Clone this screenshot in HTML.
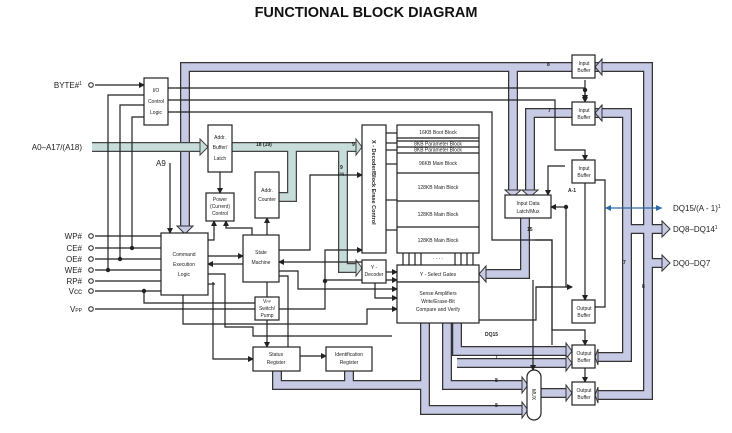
<!DOCTYPE html>
<html><head><meta charset="utf-8"><style>
html,body{margin:0;padding:0;background:#fff;}
svg{display:block;}
text{font-family:"Liberation Sans",sans-serif;fill:#222;}
.b{fill:#fff;stroke:#222;stroke-width:1.2;}
.l{fill:none;stroke:#222;stroke-width:1.2;}
.bo{fill:none;stroke:#333;stroke-width:10;stroke-linejoin:miter;}
.bi{fill:none;stroke:#c7cae4;stroke-width:7.5;stroke-linejoin:miter;}
.to{fill:none;stroke:#444;stroke-width:10;stroke-linejoin:miter;}
.ti{fill:none;stroke:#c6ddda;stroke-width:7.5;stroke-linejoin:miter;}
.s{font-size:5px;text-anchor:middle;}
.p{font-size:8px;text-anchor:end;}
</style></head><body>
<svg width="732" height="433" viewBox="0 0 732 433" xmlns="http://www.w3.org/2000/svg">
<defs>
<marker id="a" markerWidth="6" markerHeight="6" refX="5" refY="3" orient="auto" markerUnits="userSpaceOnUse"><path d="M0,0 L6,3 L0,6z" fill="#222"/></marker>
</defs>
<text x="366" y="17" font-size="14.5" font-weight="bold" text-anchor="middle" style="fill:#111">FUNCTIONAL BLOCK DIAGRAM</text>

<!-- lavender buses -->
<g>
<path class="bo" d="M572,67 H185 V226"/><path class="bo" d="M513,67 V190"/>
<path class="bo" d="M572,113 H530 V190"/>
<path class="bo" d="M595,67 H648 V395 H598"/>
<path class="bo" d="M595,113 H627 V357 H598"/>
<path class="bo" d="M627,229 H662"/><path class="bo" d="M648,263 H662"/>
<path class="bo" d="M525,218 V274 H486"/>
<path class="bo" d="M425,323 V410 H522"/>
<path class="bo" d="M447,323 V385 H522"/>
<path class="bo" d="M457,323 V351 H566"/>
<path class="bo" d="M457,363 H566"/>
<path class="bo" d="M277,371 V385 H425"/><path class="bo" d="M349,371 V385"/>
<path class="bo" d="M541,393 H566"/>
</g>
<g>
<path class="bi" d="M572,67 H185 V226"/><path class="bi" d="M513,67 V190"/>
<path class="bi" d="M572,113 H530 V190"/>
<path class="bi" d="M595,67 H648 V395 H598"/>
<path class="bi" d="M595,113 H627 V357 H598"/>
<path class="bi" d="M627,229 H662"/><path class="bi" d="M648,263 H662"/>
<path class="bi" d="M525,218 V274 H486"/>
<path class="bi" d="M425,323 V410 H522"/>
<path class="bi" d="M447,323 V385 H522"/>
<path class="bi" d="M457,323 V351 H566"/>
<path class="bi" d="M457,363 H566"/>
<path class="bi" d="M277,371 V385 H425"/><path class="bi" d="M349,371 V385"/>
<path class="bi" d="M541,393 H566"/>
</g>
<!-- arrow heads lavender -->
<g fill="#c7cae4" stroke="#333" stroke-width="1">
<path d="M177,226 H193 L185,234z"/>
<path d="M505,190 H521 L513,197z"/><path d="M522,190 H538 L530,197z"/>
<path d="M486,266 V282 L479,274z"/>
<path d="M602,59 V75 L595,67z"/><path d="M602,105 V121 L595,113z"/>
<path d="M598,349 V365 L595,357z"/><path d="M598,387 V403 L595,395z"/>
<path d="M662,221 V237 L670,229z"/><path d="M662,255 V271 L670,263z"/>
<path d="M522,402 V418 L528,410z"/><path d="M522,377 V393 L528,385z"/>
<path d="M566,343 V359 L572,351z"/><path d="M566,355 V371 L572,363z"/>
<path d="M566,385 V401 L572,393z"/>
</g>
<!-- teal buses -->
<path class="to" d="M92,147 H200"/><path class="to" d="M232,147 H356"/>
<path class="to" d="M292,147 V197 H279"/><path class="to" d="M343,147 V268 H356"/>
<path class="ti" d="M92,147 H200"/><path class="ti" d="M232,147 H356"/>
<path class="ti" d="M292,147 V197 H279"/><path class="ti" d="M343,147 V268 H356"/>
<g fill="#c6ddda" stroke="#444" stroke-width="1">
<path d="M200,139 V155 L208,147z"/><path d="M356,139 V155 L362,147z"/><path d="M356,260 V276 L362,268z"/>
</g>

<!-- thin lines -->
<g class="l">
<path d="M95,85 H144" marker-end="url(#a)"/>
<path d="M168,88 H585 V102" marker-end="url(#a)"/>
<path d="M168,100 H555 V150 H585 V160" marker-end="url(#a)"/>
<path d="M168,112 H492 V240 H552 V345"/>
<path d="M144,95 H108 V270"/><path d="M144,105 H120 V259"/><path d="M144,117 H132 V248"/>
<path d="M170,163 V233" marker-end="url(#a)"/>
<path d="M220,172 V193" marker-end="url(#a)"/>
<path d="M267,235 V218" marker-end="url(#a)"/>
<path d="M95,236 H161"/><path d="M95,248 H161"/><path d="M95,259 H161"/><path d="M95,270 H161"/><path d="M95,281 H161"/><path d="M95,291 H161"/>
<path d="M95,309 H255"/><path d="M279,309 H325 V250 H362" marker-end="url(#a)"/>
<path d="M144,291 V303 H255"/>
<path d="M208,240 H214 V221" marker-end="url(#a)"/>
<path d="M252,235 V228 H226 V221" marker-end="url(#a)"/>
<path d="M208,256 H243" marker-end="url(#a)"/>
<path d="M243,264 H208" marker-end="url(#a)"/>
<path d="M279,250 H310 V175 H362" marker-end="url(#a)"/>
<path d="M362,262 H279" marker-end="url(#a)"/>
<path d="M279,271 H298 V289 H397" marker-end="url(#a)"/>
<path d="M279,276 H288 V360" marker-end="url(#a)"/>
<path d="M267,282 V297"/>
<path d="M267,320 V347" marker-end="url(#a)"/>
<path d="M203,274 H225 V327 H253 V336 H347 H392"/>
<path d="M213,282 V359 H253" marker-end="url(#a)"/>
<path d="M208,284 H215"/>
<path d="M183,295 V324 H367 V309 H397" marker-end="url(#a)"/>
<path d="M300,356 H326" marker-end="url(#a)"/>
<path d="M386,230 H397"/><path d="M386,200 H397"/><path d="M386,164 H397"/><path d="M386,143 H397"/><path d="M386,150 H397"/><path d="M386,133 H397"/>
<path d="M386,272 H397" marker-end="url(#a)"/>
<path d="M375,283 V298 H397" marker-end="url(#a)"/>
<path d="M325,280 H397" marker-end="url(#a)"/>
<path d="M552,287 H536 V320 H465 V323"/>
<path d="M536,287 H572" marker-end="url(#a)"/>
<path d="M585,183 V300" marker-end="url(#a)"/>
<path d="M595,180 H605 V307 H595"/>
<path d="M565,166 H548 V195" marker-end="url(#a)"/>
<path d="M566,207 H551" marker-end="url(#a)"/>
<path d="M566,207 V287"/>
<path d="M552,240 H552"/>
<path d="M535,240 H552 V330 H585 V345" marker-end="url(#a)"/>
<path d="M585,368 V382" marker-end="url(#a)"/>
<path d="M585,80 V100" marker-end="url(#a)"/>
<path d="M533,280 H533 V370" marker-end="url(#a)"/>
</g>
<path d="M605,208 H662" stroke="#2d6aa8" stroke-width="1.2" fill="none"/>
<path d="M605,208 l6,-3 v6z M662,208 l-6,-3 v6z" fill="#2d6aa8"/>
<g fill="#222">
<circle cx="132" cy="248" r="2.2"/><circle cx="120" cy="259" r="2.2"/><circle cx="108" cy="270" r="2.2"/><circle cx="144" cy="291" r="2.2"/><circle cx="325" cy="281" r="2.2"/><circle cx="585" cy="90" r="2.2"/><circle cx="566" cy="207" r="2.2"/>
</g>
<g fill="#fff" stroke="#222" stroke-width="1">
<circle cx="91" cy="85" r="2.3"/><circle cx="91" cy="236" r="2.3"/><circle cx="91" cy="248" r="2.3"/><circle cx="91" cy="259" r="2.3"/><circle cx="91" cy="270" r="2.3"/><circle cx="91" cy="281" r="2.3"/><circle cx="91" cy="291" r="2.3"/><circle cx="91" cy="309" r="2.3"/>
</g>

<!-- boxes -->
<rect class="b" x="144" y="78" width="24" height="47"/>
<text class="s" x="156" y="92">I/O</text><text class="s" x="156" y="103">Control</text><text class="s" x="156" y="114">Logic</text>
<rect class="b" x="208" y="125" width="24" height="47"/>
<text class="s" x="220" y="139">Addr.</text><text class="s" x="220" y="149">Buffer/</text><text class="s" x="220" y="160">Latch</text>
<rect class="b" x="206" y="193" width="28" height="28"/>
<text class="s" x="220" y="201">Power</text><text class="s" x="220" y="208">(Current)</text><text class="s" x="220" y="215">Control</text>
<rect class="b" x="255" y="172" width="24" height="46"/>
<text class="s" x="267" y="192">Addr.</text><text class="s" x="267" y="201">Counter</text>
<rect class="b" x="161" y="233" width="47" height="62"/>
<text class="s" x="184" y="256">Command</text><text class="s" x="184" y="266">Execution</text><text class="s" x="184" y="276">Logic</text>
<rect class="b" x="243" y="235" width="36" height="47"/>
<text class="s" x="261" y="254">State</text><text class="s" x="261" y="264">Machine</text>
<rect class="b" x="255" y="297" width="24" height="23"/>
<text class="s" x="267" y="303">V<tspan font-size="3.5">PP</tspan></text><text class="s" x="267" y="310">Switch/</text><text class="s" x="267" y="317">Pump</text>
<rect class="b" x="253" y="347" width="47" height="24"/>
<text class="s" x="276" y="356">Status</text><text class="s" x="276" y="364">Register</text>
<rect class="b" x="326" y="347" width="46" height="24"/>
<text class="s" x="349" y="356">Identification</text><text class="s" x="349" y="364">Register</text>
<rect class="b" x="362" y="125" width="24" height="128"/>
<text font-size="5.5" font-family="Liberation Serif" transform="translate(372,140) rotate(90)" style="font-weight:bold">X - Decoder/Block Erase Control</text>
<rect class="b" x="362" y="260" width="24" height="23"/>
<text class="s" x="374" y="269">Y -</text><text class="s" x="374" y="276">Decoder</text>
<rect class="b" x="397" y="125" width="82" height="128"/>
<g class="l"><path d="M397,138H479M397,141H479M397,147H479M397,153H479M397,173H479M397,201H479M397,227H479"/></g>
<text class="s" x="438" y="134">16KB Boot Block</text>
<text class="s" x="438" y="145.5" font-size="4.5">8KB Parameter Block</text>
<text class="s" x="438" y="151.5" font-size="4.5">8KB Parameter Block</text>
<text class="s" x="438" y="165">96KB Main Block</text>
<text class="s" x="438" y="189">128KB Main Block</text>
<text class="s" x="438" y="216">128KB Main Block</text>
<text class="s" x="438" y="242">128KB Main Block</text>
<g class="l"><path d="M403,253V265M409,253V265M415,253V265M421,253V265M455,253V265M461,253V265M467,253V265M473,253V265"/></g>
<text class="s" x="438" y="260">· · · ·</text>
<rect class="b" x="397" y="265" width="82" height="17"/>
<text class="s" x="438" y="276">Y - Select Gates</text>
<rect class="b" x="397" y="282" width="82" height="41"/>
<text class="s" x="438" y="295">Sense Amplifiers</text><text class="s" x="438" y="303">Write/Erase-Bit</text><text class="s" x="438" y="311">Compare and Verify</text>
<rect class="b" x="505" y="195" width="46" height="23"/>
<text class="s" x="528" y="205">Input Data</text><text class="s" x="528" y="213">Latch/Mux</text>
<g>
<rect class="b" x="572" y="55" width="23" height="23"/><text class="s" x="584" y="65">Input</text><text class="s" x="584" y="72">Buffer</text>
<rect class="b" x="572" y="102" width="23" height="23"/><text class="s" x="584" y="112">Input</text><text class="s" x="584" y="119">Buffer</text>
<rect class="b" x="572" y="160" width="23" height="23"/><text class="s" x="584" y="170">Input</text><text class="s" x="584" y="177">Buffer</text>
<rect class="b" x="572" y="300" width="23" height="23"/><text class="s" x="584" y="310">Output</text><text class="s" x="584" y="317">Buffer</text>
<rect class="b" x="572" y="345" width="23" height="23"/><text class="s" x="584" y="355">Output</text><text class="s" x="584" y="362">Buffer</text>
<rect class="b" x="572" y="382" width="23" height="23"/><text class="s" x="584" y="392">Output</text><text class="s" x="584" y="399">Buffer</text>
</g>
<rect class="b" x="527" y="370" width="14" height="50" rx="7"/>
<text font-size="5" transform="translate(532,389) rotate(90)">MUX</text>

<!-- labels -->
<text class="p" x="82" y="88">BYTE#<tspan font-size="5" dy="-3">1</tspan></text>
<text class="p" x="82" y="150">A0–A17/(A18)</text>
<text font-size="8" x="156" y="166">A9</text>
<text class="p" x="82" y="239">WP#</text><text class="p" x="82" y="251">CE#</text><text class="p" x="82" y="262">OE#</text><text class="p" x="82" y="273">WE#</text><text class="p" x="82" y="284">RP#</text><text class="p" x="82" y="294">Vcc</text>
<text class="p" x="82" y="312">V<tspan font-size="5">PP</tspan></text>
<text font-size="8" x="673" y="211">DQ15/(A - 1)<tspan font-size="5" dy="-3">1</tspan></text>
<text font-size="8" x="673" y="232">DQ8–DQ14<tspan font-size="5" dy="-3">1</tspan></text>
<text font-size="8" x="673" y="266">DQ0–DQ7</text>
<g font-size="5" font-weight="bold">
<text x="256" y="146">18 (19)</text><text x="352" y="146">9</text><text x="340" y="169">9</text><text x="338" y="175" font-size="3.5">(10)</text>
<text x="547" y="66">8</text><text x="548" y="112">7</text><text x="527" y="231">15</text><text x="568" y="192">A-1</text>
<text x="485" y="336">DQ15</text><text x="495" y="359">7</text><text x="495" y="382">8</text><text x="495" y="407">8</text>
<text x="623" y="264">7</text><text x="642" y="288">8</text>
</g>
</svg>
</body></html>
